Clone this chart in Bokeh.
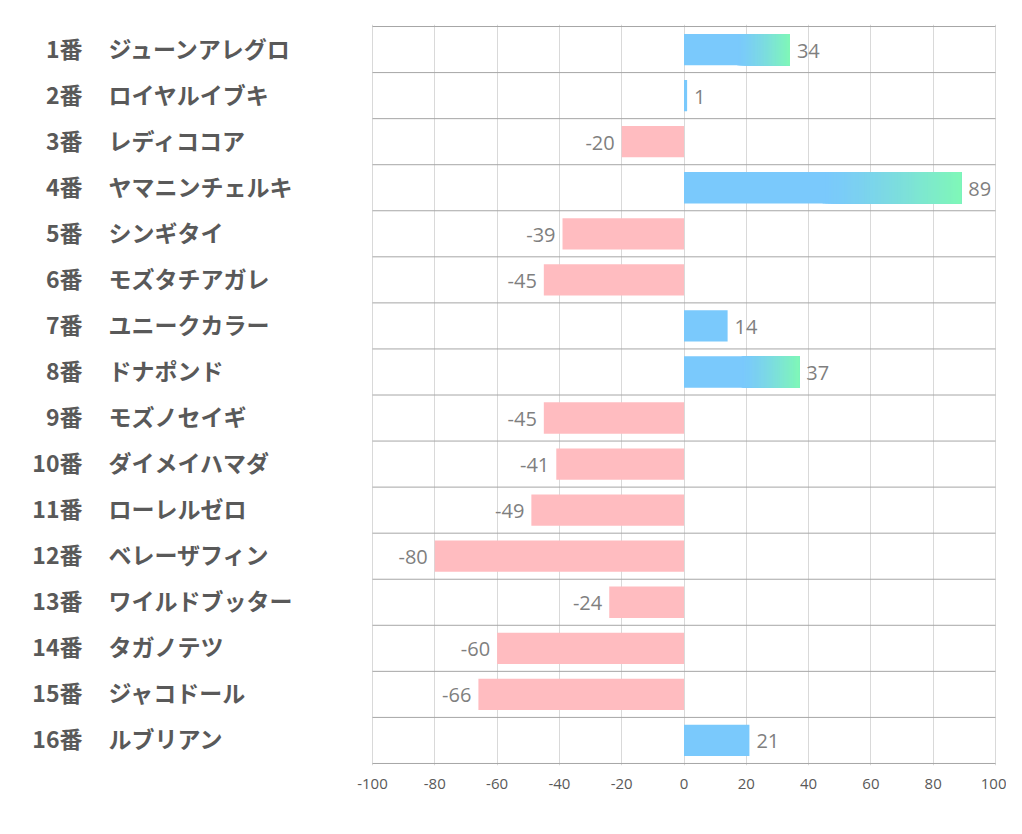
import numpy as np
from bokeh.plotting import figure
from bokeh.models import ColumnDataSource, LabelSet, Range1d, FixedTicker
from bokeh.core.properties import value
from bokeh.embed import file_html
from bokeh.resources import INLINE

numbers = ["1番", "2番", "3番", "4番", "5番", "6番", "7番", "8番",
           "9番", "10番", "11番", "12番", "13番", "14番", "15番", "16番"]
names = ["ジューンアレグロ", "ロイヤルイブキ", "レディココア", "ヤマニンチェルキ",
         "シンギタイ", "モズタチアガレ", "ユニークカラー", "ドナポンド",
         "モズノセイギ", "ダイメイハマダ", "ローレルゼロ", "ベレーザフィン",
         "ワイルドブッター", "タガノテツ", "ジャコドール", "ルブリアン"]
values = [34, 1, -20, 89, -39, -45, 14, 37, -45, -41, -49, -80, -24, -60, -66, 21]
x_ticks = [-100, -80, -60, -40, -20, 0, 20, 40, 60, 80, 100]

BLUE = (122, 201, 252)
GREEN = (127, 247, 184)
PINK = "#ffbcc0"

n = len(values)
ypos = [i + 0.5 for i in range(n)]

# layout: plot area (-100..100) spans 623 px; label column sits in the same frame
px_per_unit = 623 / 200.0
frame_left = 10
x_start = -100 - (372 - frame_left) / px_per_unit
x_end = 100 + 2 / px_per_unit
e = 0.044

p = figure(width=1006, height=810, output_backend="svg", toolbar_location=None,
           x_range=Range1d(x_start, x_end), y_range=Range1d(n + e, -e),
           min_border_left=frame_left, min_border_right=9, min_border_top=24,
           min_border_bottom=45)
p.outline_line_color = None
p.background_fill_color = "white"

# vertical grid lines
p.xgrid.ticker = FixedTicker(ticks=x_ticks)
p.xgrid.grid_line_color = "#d9d9d9"
p.xgrid.grid_line_width = 1
p.ygrid.visible = False

# row separators, limited to the plot area
bounds = list(range(n + 1))
p.segment(x0=[x_ticks[0]] * len(bounds), x1=[x_ticks[-1]] * len(bounds),
          y0=bounds, y1=bounds, line_color="#a6a6a6", line_width=1)

# axes
p.yaxis.visible = False
p.xaxis.ticker = FixedTicker(ticks=x_ticks)
p.xaxis.major_label_overrides = {t: str(t) for t in x_ticks}
p.xaxis.axis_line_color = None
p.xaxis.major_tick_line_color = None
p.xaxis.minor_tick_line_color = None
p.xaxis.major_label_text_font = "Open Sans"
p.xaxis.major_label_text_font_size = "15px"
p.xaxis.major_label_text_color = "#595959"
p.xaxis.major_label_standoff = 7

bh = 0.68
# negative bars
neg_y = [y for y, v in zip(ypos, values) if v < 0]
neg_v = [v for v in values if v < 0]
p.hbar(y=neg_y, left=neg_v, right=0, height=bh, fill_color=PINK, line_color=None)

# positive bars (gradient for long bars drawn as overlapping slices)
pos_y = [y for y, v in zip(ypos, values) if v > 0]
pos_v = [v for v in values if v > 0]
p.hbar(y=pos_y, left=0, right=pos_v, height=bh,
       fill_color="#%02x%02x%02x" % BLUE, line_color=None)
sy, sl, sr, sc = [], [], [], []
for y, v in zip(pos_y, pos_v):
    if v <= 30:
        continue
    start = 0.5 * v
    steps = 50
    for k in range(steps):
        t = (k / (steps - 1)) ** 1.3
        x0 = start + (v - start) * k / steps
        col = tuple(int(round(BLUE[c] + (GREEN[c] - BLUE[c]) * t)) for c in range(3))
        sy.append(y)
        sl.append(x0)
        sr.append(v)
        sc.append("#%02x%02x%02x" % col)
p.hbar(y=sy, left=sl, right=sr, height=bh, fill_color=sc, line_color=None)

# value labels
pos_src = ColumnDataSource(dict(x=[v for v in values if v > 0],
                                y=[y for y, v in zip(ypos, values) if v > 0],
                                t=[str(v) for v in values if v > 0]))
neg_src = ColumnDataSource(dict(x=[v for v in values if v < 0],
                                y=[y for y, v in zip(ypos, values) if v < 0],
                                t=[str(v) for v in values if v < 0]))
for src, align, off in ((pos_src, "left", 7), (neg_src, "right", -7)):
    p.add_layout(LabelSet(x="x", y="y", text="t", source=src, text_align=align,
                          text_baseline="middle", x_offset=off, y_offset=-1,
                          text_font=value("Open Sans"), text_font_size="20px",
                          text_color="#7f7f7f"))

# category labels on the left
cat_src = ColumnDataSource(dict(x=[-100] * n, y=ypos, num=numbers, name=names))
p.add_layout(LabelSet(x="x", y="y", text="num", source=cat_src, text_align="right",
                      text_baseline="middle", x_offset=-290, y_offset=2,
                      text_font=value("Noto Sans CJK JP"), text_font_style="bold",
                      text_font_size="23px", text_color="#595959"))
p.add_layout(LabelSet(x="x", y="y", text="name", source=cat_src, text_align="left",
                      text_baseline="middle", x_offset=-264, y_offset=2,
                      text_font=value("Noto Sans CJK JP"), text_font_style="bold",
                      text_font_size="23px", text_color="#595959"))

open("out.html", "w").write(file_html(p, INLINE))
